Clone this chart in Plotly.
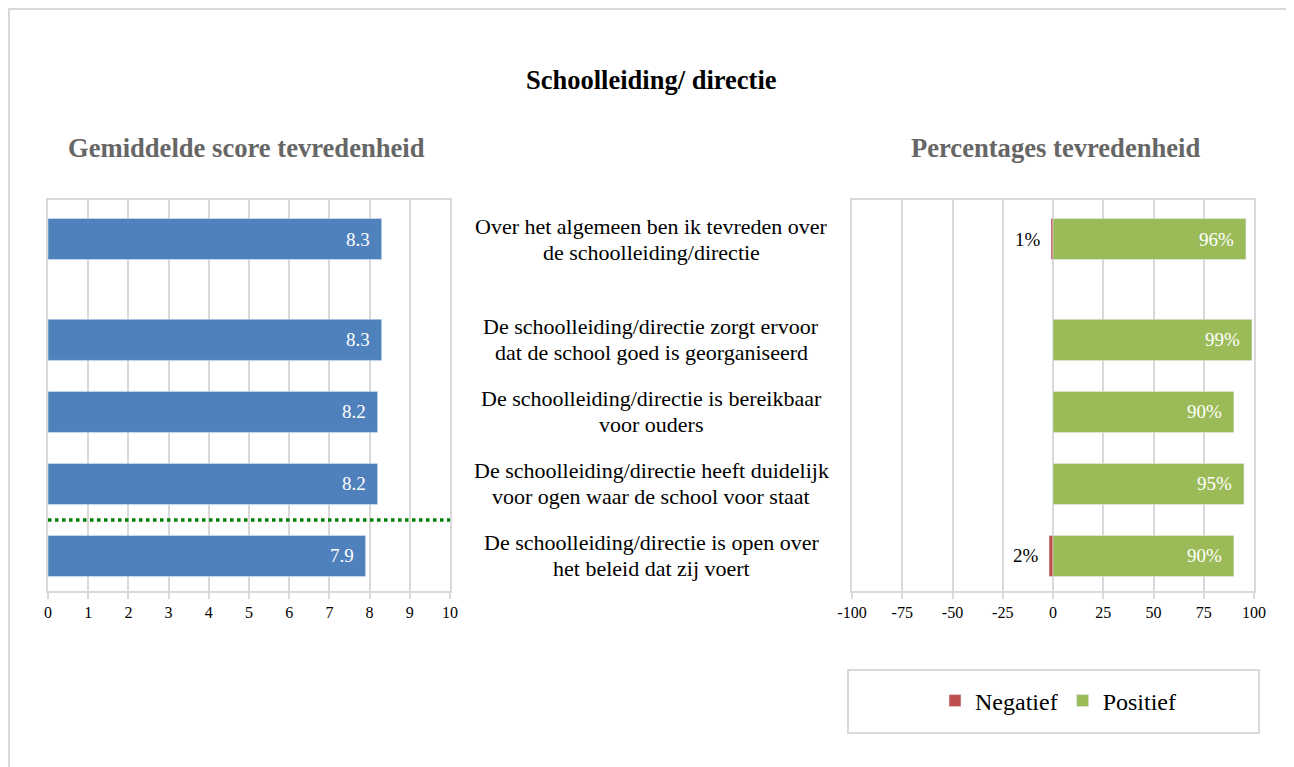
import plotly.graph_objects as go

# ---- data ----
statements = [
    "Over het algemeen ben ik tevreden over<br>de schoolleiding/directie",
    "De schoolleiding/directie zorgt ervoor<br>dat de school goed is georganiseerd",
    "De schoolleiding/directie is bereikbaar<br>voor ouders",
    "De schoolleiding/directie heeft duidelijk<br>voor ogen waar de school voor staat",
    "De schoolleiding/directie is open over<br>het beleid dat zij voert",
]
mean_scores = [8.3, 8.3, 8.2, 8.2, 7.9]
pct_negative = [-1, 0, 0, 0, -2]
pct_positive = [96, 99, 90, 95, 90]
x_ticks_left = [0, 1, 2, 3, 4, 5, 6, 7, 8, 9, 10]
x_ticks_right = [-100, -75, -50, -25, 0, 25, 50, 75, 100]

title = "Schoolleiding/ directie"
subtitle_left = "Gemiddelde score tevredenheid"
subtitle_right = "Percentages tevredenheid"

# ---- layout helpers ----
W, H = 1294, 767
OX, OY = 8, 8  # page offset of the figure
FONT = "Liberation Serif, Times New Roman, serif"
BLUE, RED, GREEN = "#4f81bd", "#c0504d", "#9bbb59"
GRID = "#d9d9d9"

# row positions: an extra gap after the first (overall) statement
pos = [i + (0.4 if i > 0 else 0) for i in range(len(statements))]
separator = (pos[-2] + pos[-1]) / 2

def px(x):
    return (x - OX) / W

def py(y):
    return 1 - (y - OY) / H

fig = go.Figure()

fig.add_trace(go.Bar(
    x=mean_scores, y=pos, orientation="h", marker_color=BLUE,
    width=0.57, showlegend=False, xaxis="x", yaxis="y", hoverinfo="x",
))
fig.add_trace(go.Bar(
    x=pct_negative, y=pos, orientation="h", marker_color=RED,
    width=0.57, name="Negatief", xaxis="x2", yaxis="y2",
))
fig.add_trace(go.Bar(
    x=pct_positive, y=pos, orientation="h", marker_color=GREEN,
    width=0.57, name="Positief", xaxis="x2", yaxis="y2",
))

VAL_SIZE = 19
annotations = []
# value labels left
for v, p in zip(mean_scores, pos):
    annotations.append(dict(x=v, y=p, xref="x", yref="y", text=f"{v:.1f}",
                            showarrow=False, xanchor="right", yanchor="middle",
                            xshift=-10,
                            font=dict(family=FONT, size=VAL_SIZE, color="white")))
# value labels right
for n, v, p in zip(pct_negative, pct_positive, pos):
    annotations.append(dict(x=v, y=p, xref="x2", yref="y2", text=f"{v}%",
                            showarrow=False, xanchor="right", yanchor="middle",
                            xshift=-10,
                            font=dict(family=FONT, size=VAL_SIZE, color="white")))
    if n != 0:
        annotations.append(dict(x=n, y=p, xref="x2", yref="y2", text=f"{abs(n)}%",
                                showarrow=False, xanchor="right", yanchor="middle",
                                xshift=-8,
                                font=dict(family=FONT, size=VAL_SIZE, color="black")))
# statements in the middle (two lines each, tight line spacing)
LINE_GAP = 26
for s, p in zip(statements, pos):
    lines = s.split("<br>")
    n = len(lines)
    for k, line in enumerate(lines):
        annotations.append(dict(x=px(651), y=p, xref="paper", yref="y", text=line,
                                showarrow=False, xanchor="center", yanchor="middle",
                                yshift=((n - 1) / 2 - k) * LINE_GAP,
                                font=dict(family=FONT, size=22, color="black")))
# titles
annotations.append(dict(x=px(651), y=py(80), xref="paper", yref="paper",
                        text=f"<b>{title}</b>", showarrow=False,
                        xanchor="center", yanchor="middle",
                        font=dict(family=FONT, size=26.5, color="black")))
annotations.append(dict(x=px(246), y=py(148), xref="paper", yref="paper",
                        text=f"<b>{subtitle_left}</b>", showarrow=False,
                        xanchor="center", yanchor="middle",
                        font=dict(family=FONT, size=26.6, color="#666666")))
annotations.append(dict(x=px(1055), y=py(148), xref="paper", yref="paper",
                        text=f"<b>{subtitle_right}</b>", showarrow=False,
                        xanchor="center", yanchor="middle",
                        font=dict(family=FONT, size=26.6, color="#666666")))

shapes = [
    # outer frame
    dict(type="rect", xref="paper", yref="paper", x0=1 / W, x1=px(1288),
         y0=-0.05, y1=1 - 1 / H, line=dict(color=GRID, width=2)),
    # legend box
    dict(type="rect", xref="paper", yref="paper", x0=px(848), x1=px(1259),
         y0=py(733), y1=py(670), line=dict(color=GRID, width=2)),
    # dotted separator in left chart
    dict(type="line", xref="x domain", yref="y", x0=0, x1=1,
         y0=separator, y1=separator,
         line=dict(color="#008000", width=3.5, dash="dot")),
]

ylo = pos[-1] + 0.486
yhi = pos[0] - 0.542

axis_common = dict(
    showgrid=True, gridcolor=GRID, gridwidth=2, zeroline=False,
    showline=True, linecolor=GRID, linewidth=2, mirror=True,
    ticks="outside", ticklen=6, tickcolor=GRID, tickwidth=2,
    tickfont=dict(family=FONT, size=16, color="black"),
    fixedrange=True, automargin=False,
)

fig.update_layout(
    width=W, height=H,
    margin=dict(l=0, r=0, t=0, b=0, pad=0, autoexpand=False),
    paper_bgcolor="white", plot_bgcolor="white",
    barmode="relative",
    showlegend=True,
    legend=dict(orientation="h", x=px(1058), y=py(701), xanchor="center",
                yanchor="middle", font=dict(family=FONT, size=24, color="black"),
                bgcolor="rgba(0,0,0,0)", itemclick=False, itemdoubleclick=False),
    xaxis=dict(domain=[px(48), px(450)], range=[0, 10], tickvals=x_ticks_left,
               ticktext=[str(t) for t in x_ticks_left], anchor="y", **axis_common),
    yaxis=dict(domain=[py(591), py(200)], range=[ylo, yhi], showticklabels=False,
               showgrid=False, zeroline=False, showline=True, linecolor=GRID,
               linewidth=2, mirror=True, ticks="", anchor="x", fixedrange=True,
               automargin=False),
    xaxis2=dict(domain=[px(852), px(1254)], range=[-100, 100], tickvals=x_ticks_right,
                ticktext=[str(t) for t in x_ticks_right], anchor="y2", **axis_common),
    yaxis2=dict(domain=[py(591), py(200)], range=[ylo, yhi], showticklabels=False,
                showgrid=False, zeroline=False, showline=True, linecolor=GRID,
                linewidth=2, mirror=True, ticks="", anchor="x2", fixedrange=True,
                automargin=False),
    annotations=annotations,
    shapes=shapes,
)

fig.write_html("out.html")
